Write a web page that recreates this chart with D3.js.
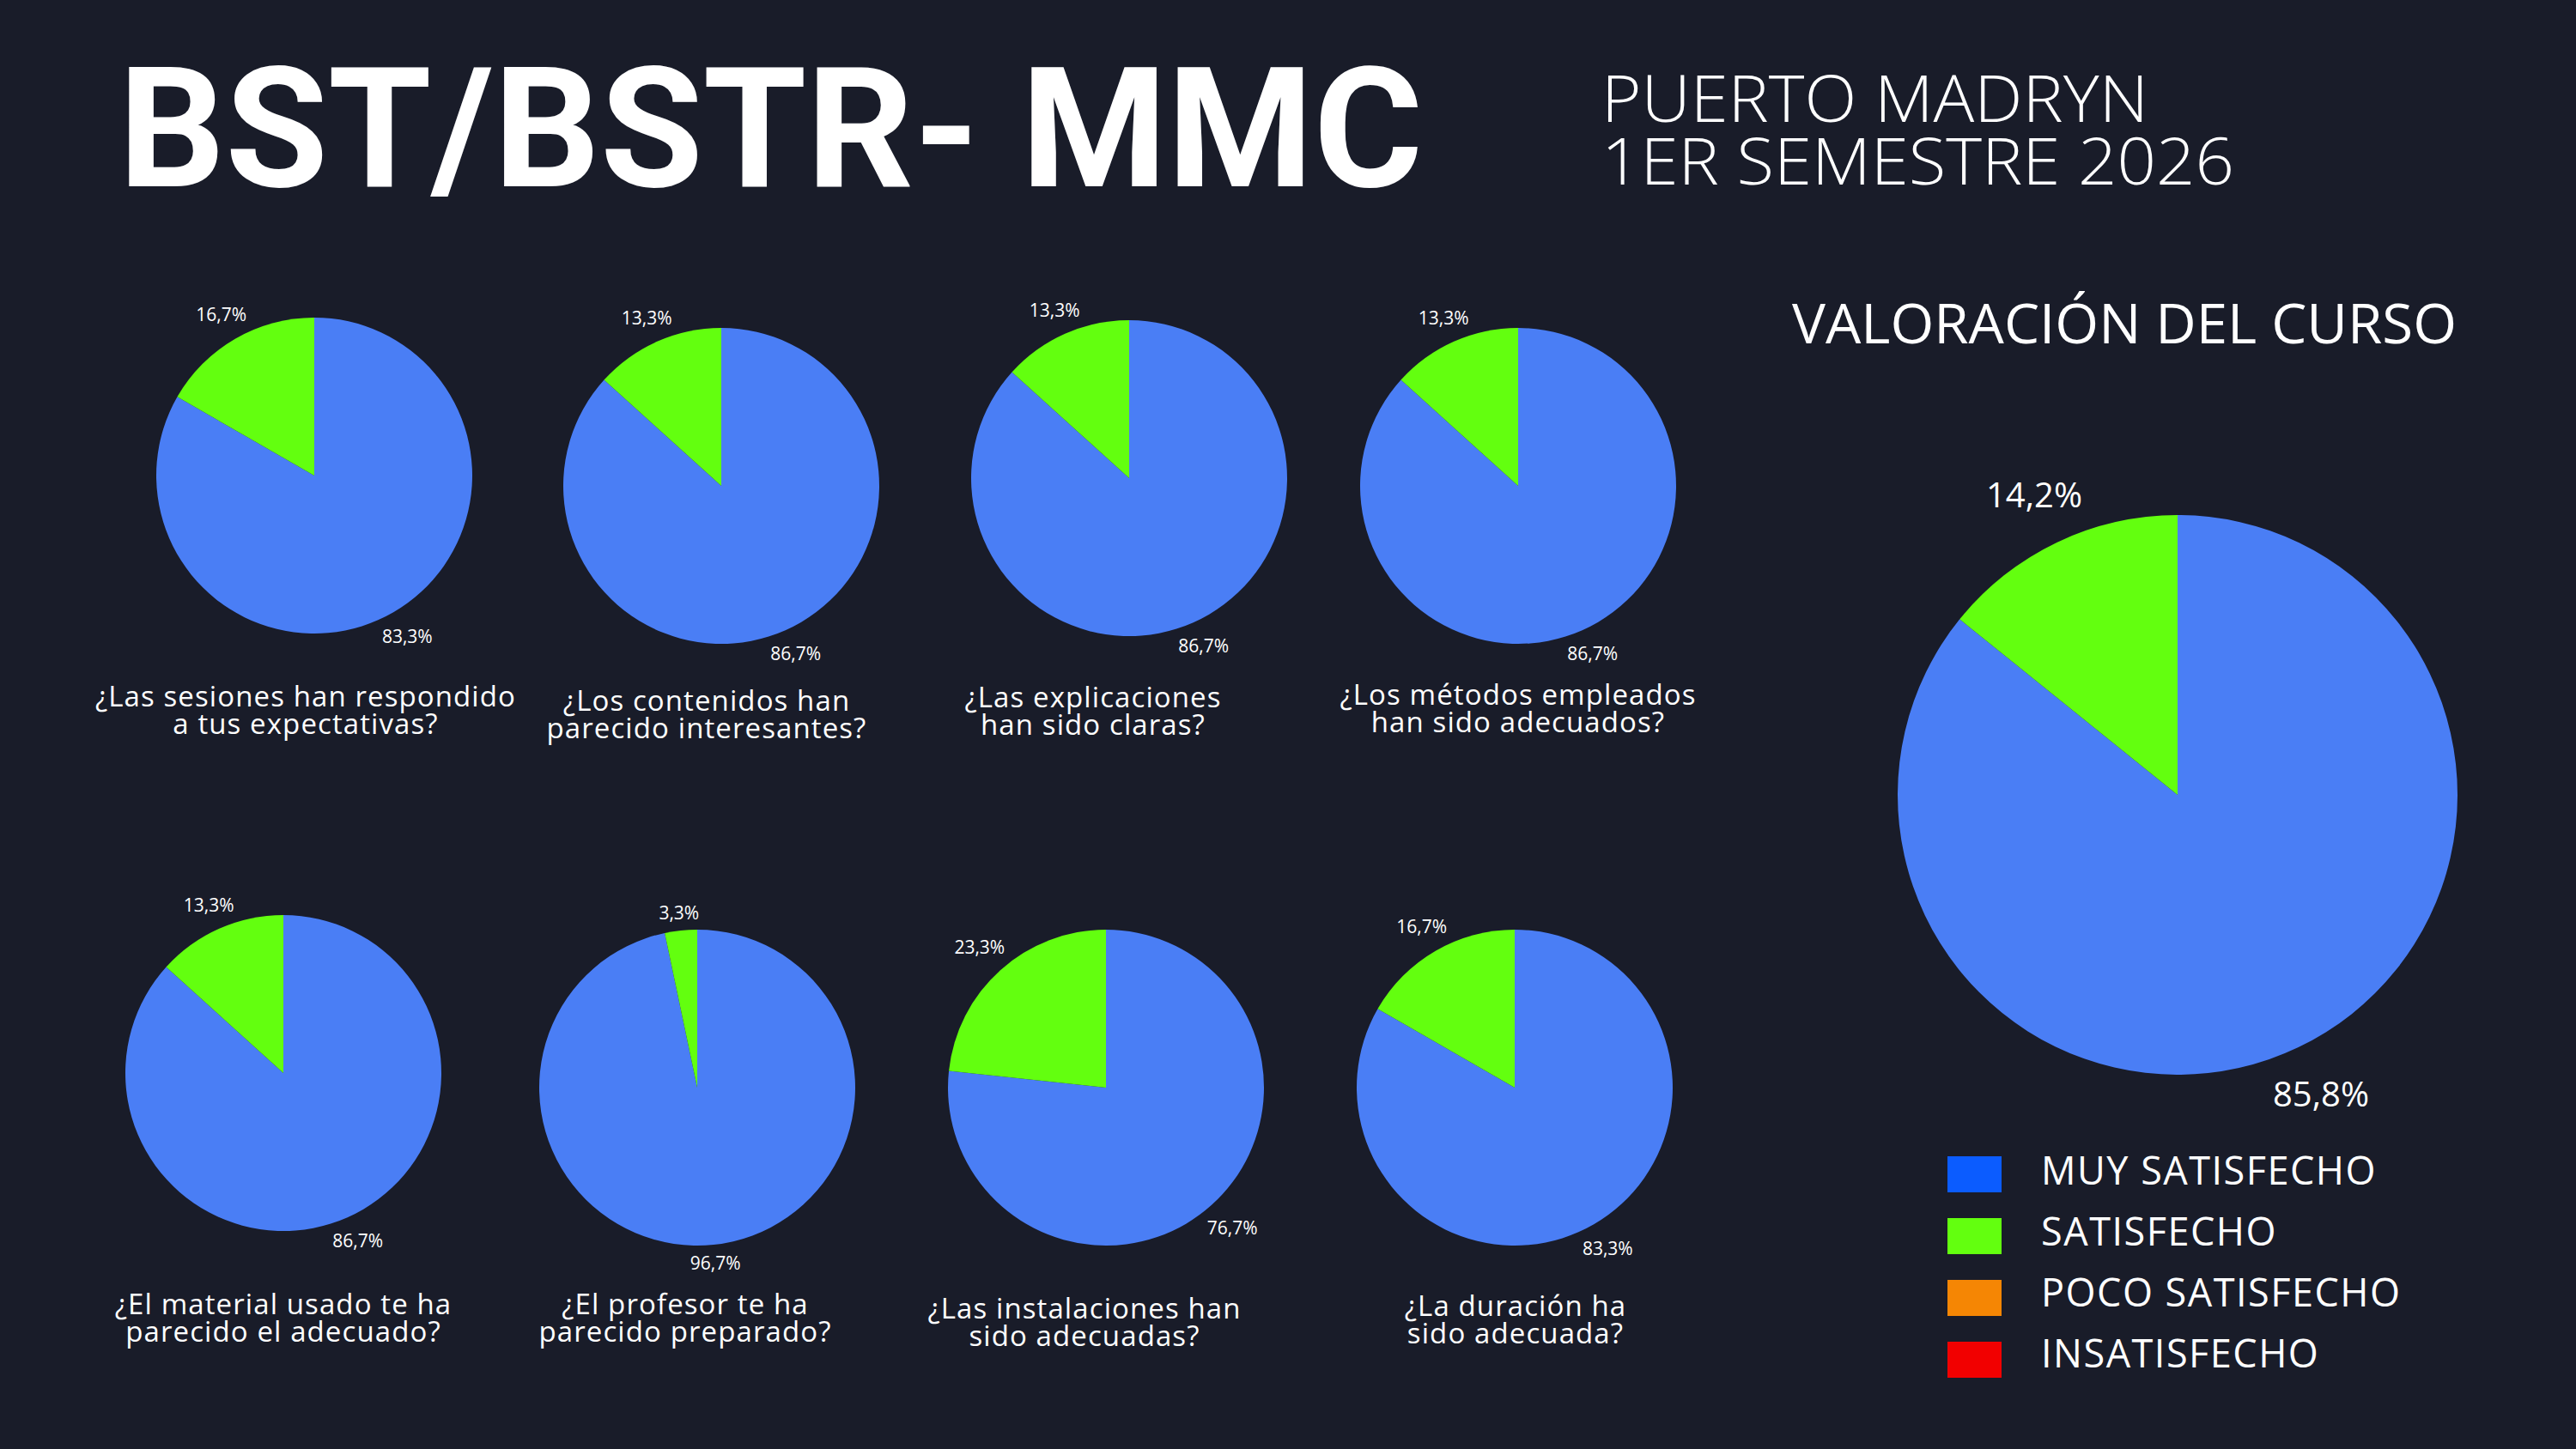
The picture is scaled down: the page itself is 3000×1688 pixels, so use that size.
<!DOCTYPE html>
<html><head><meta charset="utf-8">
<script src="https://cdn.jsdelivr.net/npm/d3@7"></script>
<style>html,body{margin:0;padding:0;background:#191c29;} svg{display:block;}</style>
</head><body>
<svg id="c" width="3000" height="1688"></svg>
<script>
// ---------- DATA ----------
const titleText = "BST/BSTR- MMC";
const subtitleLines = ["PUERTO MADRYN", "1ER SEMESTRE 2026"];
const overallTitle = "VALORACIÓN DEL CURSO";
const questionLines = [
  ["¿Las sesiones han respondido", "a tus expectativas?"],
  ["¿Los contenidos han", "parecido interesantes?"],
  ["¿Las explicaciones", "han sido claras?"],
  ["¿Los métodos empleados", "han sido adecuados?"],
  ["¿El material usado te ha", "parecido el adecuado?"],
  ["¿El profesor te ha", "parecido preparado?"],
  ["¿Las instalaciones han", "sido adecuadas?"],
  ["¿La duración ha", "sido adecuada?"]
];
const categories = ["MUY SATISFECHO", "SATISFECHO", "POCO SATISFECHO", "INSATISFECHO"];
const muySatisfecho = [83.3, 86.7, 86.7, 86.7, 86.7, 96.7, 76.7, 83.3];
const satisfecho    = [16.7, 13.3, 13.3, 13.3, 13.3, 3.3, 23.3, 16.7];
const overallValues = [85.8, 14.2, 0, 0];

// ---------- LAYOUT / STYLE ----------
const W = 3000, H = 1688;
const smallCenters = [[366,554],[840,566],[1315,557],[1768,566],[330,1250],[812,1267],[1288,1267],[1764,1267]];
const questionX = [356, 823, 1273, 1768, 330, 798, 1263, 1765];
const questionY = [823, 828, 824, 821, 1531, 1531, 1536, 1533];
const smallR = 184;
const bigCenter = [2536, 926], bigR = 326;

const pieColor = d3.scaleOrdinal().domain(categories).range(["#4a7ef5", "#63ff0f", "#f58604", "#f20000"]);
const legendColor = d3.scaleOrdinal().domain(categories).range(["#0b5cff", "#63ff0f", "#f58604", "#f20000"]);
const fmt = v => d3.format(".1f")(v).replace(".", ",") + "%";

const svg = d3.select("#c");
svg.append("rect").attr("width", W).attr("height", H).attr("fill", "#191c29");

// Title
svg.append("text").text(titleText)
  .attr("x", 138).attr("y", 217)
  .attr("font-family", "Roboto, 'Open Sans', sans-serif").attr("font-weight", 700)
  .attr("font-size", 195).attr("fill", "#fff")
  .attr("textLength", 1519).attr("lengthAdjust", "spacingAndGlyphs");

// Subtitle
const subW = [637, 737], subY = [142, 215];
subtitleLines.forEach((s, i) => {
  svg.append("text").text(s)
    .attr("x", 1865).attr("y", subY[i])
    .attr("font-family", "'Open Sans', sans-serif").attr("font-weight", 300)
    .attr("font-size", 76).attr("fill", "#fff")
    .attr("textLength", subW[i]).attr("lengthAdjust", "spacingAndGlyphs");
});

// Overall title
svg.append("text").text(overallTitle)
  .attr("x", 2087).attr("y", 400)
  .attr("font-family", "'Open Sans', sans-serif").attr("font-weight", 400)
  .attr("font-size", 64).attr("fill", "#fff")
  .attr("textLength", 774).attr("lengthAdjust", "spacingAndGlyphs");

const pie = d3.pie().sort(null).value(d => d.value);

function drawPie(center, r, data, labelSize, pad) {
  const g = svg.append("g").attr("transform", `translate(${center[0]},${center[1]})`);
  const arcs = pie(data);
  const arc = d3.arc().innerRadius(0).outerRadius(r);
  g.selectAll("path").data(arcs.filter(a => a.data.value > 0)).join("path")
    .attr("d", arc).attr("fill", d => pieColor(d.data.cat));
  arcs.filter(a => a.data.value > 0).forEach(a => {
    const t = g.append("text").text(fmt(a.data.value))
      .attr("font-family", "'Open Sans', sans-serif")
      .attr("font-size", labelSize).attr("fill", "#fff")
      .attr("text-anchor", "middle");
    const w = t.node().getComputedTextLength();
    const h = labelSize * 0.714;
    const ang = (a.startAngle + a.endAngle) / 2;
    const sx = Math.sin(ang), sy = -Math.cos(ang);
    const dist = r + pad + Math.abs(sx) * w / 2 + Math.abs(sy) * h / 2;
    t.attr("x", sx * dist).attr("y", sy * dist + h / 2);
  });
}

// Small pies
muySatisfecho.forEach((v, i) => {
  const data = [
    { cat: categories[0], value: v },
    { cat: categories[1], value: satisfecho[i] }
  ];
  drawPie(smallCenters[i], smallR, data, 21, 11);
  questionLines[i].forEach((line, j) => {
    svg.append("text").text(line)
      .attr("x", questionX[i]).attr("y", questionY[i] + j * 32)
      .attr("text-anchor", "middle")
      .attr("font-family", "'Open Sans', sans-serif")
      .attr("font-size", 33).attr("letter-spacing", 1.1).attr("fill", "#fff");
  });
});

// Big pie
drawPie(bigCenter, bigR, categories.map((c, i) => ({ cat: c, value: overallValues[i] })), 40, 24);

// Legend
const legend = svg.append("g");
categories.forEach((c, i) => {
  legend.append("rect")
    .attr("x", 2268).attr("y", 1347 + i * 72)
    .attr("width", 63).attr("height", 42)
    .attr("fill", legendColor(c));
  legend.append("text").text(c)
    .attr("x", 2377).attr("y", 1380 + i * 71)
    .attr("font-family", "'Open Sans', sans-serif")
    .attr("font-size", 45).attr("letter-spacing", 1.5).attr("fill", "#fff");
});
</script>
</body></html>
